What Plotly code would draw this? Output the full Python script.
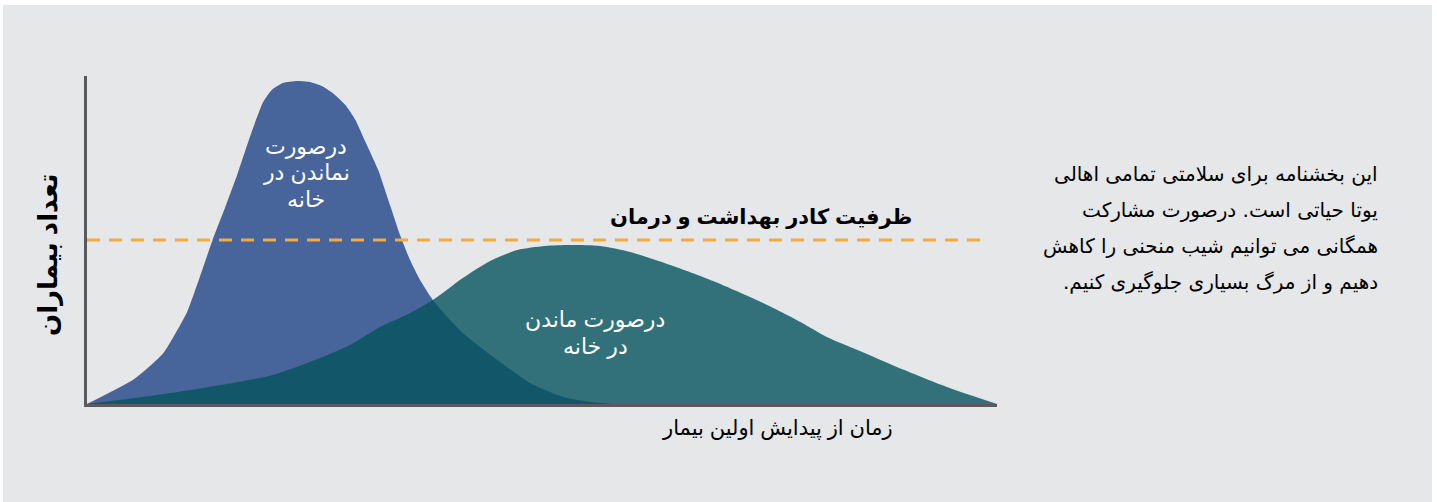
import plotly.graph_objects as go

# ---- data (days since first case, number of patients in arbitrary units) ----
days_no_stay = [0, 5.2, 8.4, 11.0, 12.4, 13.8, 15.2, 16.5, 17.9, 19.3, 20.3, 21.5, 23.1, 24.5,
                25.8, 27.0, 28.4, 29.5, 30.5, 32.0, 33.3, 34.4, 35.5, 36.6, 38.0, 39.7, 41.3,
                43.2, 45.1, 48.7, 52.3, 55.3, 57.8]
cases_no_stay = [0, 25, 51, 92, 127, 164, 197, 229, 267, 301, 314, 321, 323, 322,
                 318, 311, 299, 284, 264, 234, 199, 169, 144, 124, 104, 86, 71,
                 57, 44, 21, 7, 2, 0]

days_stay = [0, 6.9, 12.7, 20.4, 25.6, 28.9, 32.2, 35.5, 38.0, 41.3, 44.3, 47.3, 50.3,
             53.1, 56.4, 59.7, 64.1, 68.8, 74.3, 78.4, 81.3, 85.2, 89.0, 94.5, 100]
cases_stay = [0, 8, 16, 29, 46, 59, 77, 91, 104, 126, 143, 154, 158,
              159, 158, 152, 139, 123, 101, 82, 67, 52, 37, 17, 0]

capacity = 164

label_no_stay = ["درصورت", "نماندن در", "خانه"]
label_stay = ["درصورت ماندن", "در خانه"]
capacity_label = "ظرفیت کادر بهداشت و درمان"
x_title = "زمان از پیدایش اولین بیمار"
y_title = "تعداد بیماران"
paragraph = [
    "این بخشنامه برای سلامتی تمامی اهالی",
    "یوتا حیاتی است. درصورت مشارکت",
    "همگانی می توانیم شیب منحنی را کاهش",
    "دهیم و از مرگ بسیاری جلوگیری کنیم.\u200f",
]

# ---- layout helpers (pixel -> paper coords) ----
W, H = 1437, 502
L, R, T, B = 87, 997, 76, 404
def px(x):
    return (x - L) / (R - L)
def py(y):
    return (B - y) / (B - T)

BLUE = "#47659a"
TEAL = "rgba(5,84,93,0.8)"
FONT = "Arial, 'Liberation Sans', 'DejaVu Sans', sans-serif"

fig = go.Figure()
fig.add_trace(go.Scatter(x=days_no_stay, y=cases_no_stay, mode="lines", fill="tozeroy",
                         fillcolor=BLUE, line=dict(width=0, color=BLUE, shape="spline", smoothing=0.5),
                         hoverinfo="skip"))
fig.add_trace(go.Scatter(x=days_stay, y=cases_stay, mode="lines", fill="tozeroy",
                         fillcolor=TEAL, line=dict(width=0, color=TEAL, shape="spline", smoothing=0.7),
                         hoverinfo="skip"))

shapes = [
    dict(type="rect", xref="paper", yref="paper", x0=px(3), x1=px(1432), y0=py(5), y1=py(505),
         fillcolor="#e6e7e9", line=dict(width=0), layer="below"),
    dict(type="line", xref="x", yref="y", x0=0, x1=98.2, y0=capacity, y1=capacity,
         line=dict(color="#f5aa3c", width=3, dash="13px,9px"), layer="above"),
]

ann = []
for i, t in enumerate(label_no_stay):
    ann.append(dict(x=px(306), y=py(146 + 26.5 * i), text=t, font=dict(size=22, color="white", family=FONT)))
for i, t in enumerate(label_stay):
    ann.append(dict(x=px(595), y=py(319 + 27 * i), text=t, font=dict(size=22, color="white", family=FONT)))
ann.append(dict(x=px(761), y=py(217), text="<b>" + capacity_label + "</b>",
                font=dict(size=21, color="black", family=FONT)))
ann.append(dict(x=px(777), y=py(428), text=x_title, font=dict(size=21, color="black", family=FONT)))
ann.append(dict(x=px(48), y=py(255), text="<b>" + y_title + "</b>", textangle=-90,
                font=dict(size=26, color="black", family=FONT)))
for i, t in enumerate(paragraph):
    ann.append(dict(x=px(1380), y=py(174 + 36 * i), text=t, xanchor="right",
                    font=dict(size=20, color="black", family="'DejaVu Sans', sans-serif")))
for a in ann:
    a.update(xref="paper", yref="paper", showarrow=False)
    a.setdefault("xanchor", "center")
    a.setdefault("yanchor", "middle")

fig.update_layout(
    width=W, height=H,
    margin=dict(l=L, r=W - R, t=T, b=H - B, pad=0),
    paper_bgcolor="white", plot_bgcolor="rgba(0,0,0,0)",
    showlegend=False,
    shapes=shapes, annotations=ann,
    xaxis=dict(range=[0, 100], showgrid=False, zeroline=False, showticklabels=False, ticks="",
               showline=True, linecolor="#5a5a5a", linewidth=2.5),
    yaxis=dict(range=[0, 328], showgrid=False, zeroline=False, showticklabels=False, ticks="",
               showline=True, linecolor="#5a5a5a", linewidth=2.5),
)
fig.write_html("out.html")
